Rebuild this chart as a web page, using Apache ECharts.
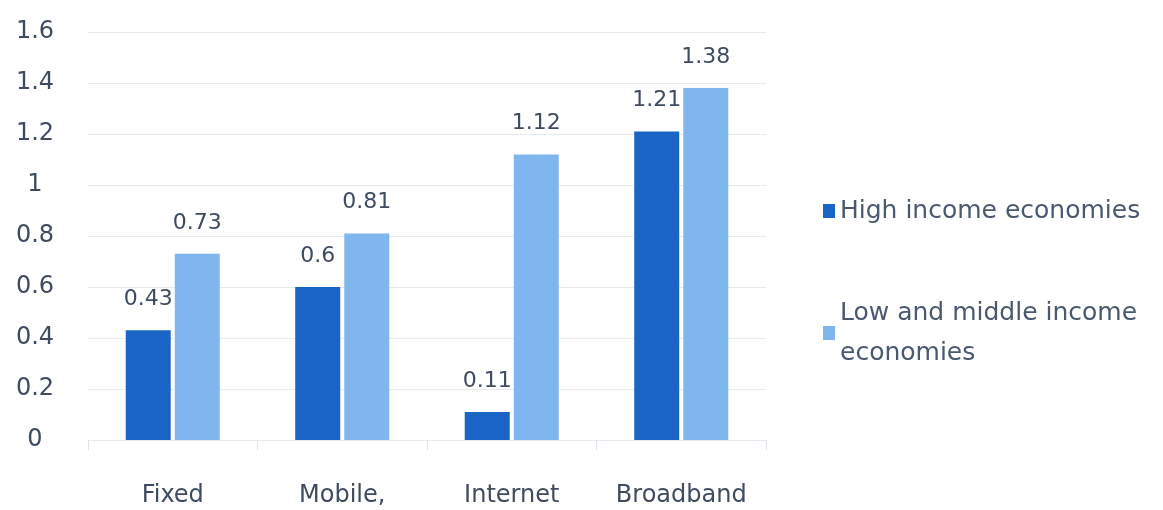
<!DOCTYPE html>
<html>
<head>
<meta charset="utf-8">
<script src="https://cdn.jsdelivr.net/npm/echarts@6/dist/echarts.min.js"></script>
<style>
  html, body { margin: 0; padding: 0; background: #ffffff; }
  #chart { width: 1163px; height: 510px; }
</style>
</head>
<body>
<div id="chart"></div>
<script>
// Categories and series values
const categories = ['Fixed', 'Mobile,', 'Internet', 'Broadband'];
const highIncome = [0.43, 0.6, 0.11, 1.21];
const lowMiddleIncome = [0.73, 0.81, 1.12, 1.38];
const seriesNames = ['High income economies', 'Low and middle income economies'];

const textColor = '#3f4c60';
const fontFamily = '"DejaVu Sans", "Liberation Sans", sans-serif';

const chart = echarts.init(document.getElementById('chart'));

const valueLabel = {
  show: true,
  position: 'top',
  distance: 20,
  color: textColor,
  fontSize: 22,
  fontFamily: fontFamily
};

chart.setOption({
  animation: false,
  backgroundColor: '#ffffff',
  grid: { left: 88, right: 397, top: 32, bottom: 70 },
  legend: {
    orient: 'vertical',
    left: 818,
    top: 186,
    itemWidth: 12,
    itemHeight: 14,
    itemGap: 62,
    icon: 'rect',
    data: seriesNames,
    textStyle: { color: '#4a5870', fontSize: 25, fontFamily: fontFamily, lineHeight: 40 },
    formatter: function (name) {
      return name === seriesNames[1] ? 'Low and middle income\neconomies' : name;
    }
  },
  xAxis: {
    type: 'category',
    data: categories,
    axisLine: { show: false },
    axisTick: { show: true, length: 10, lineStyle: { color: '#dfe3ea' } },
    axisLabel: { interval: 0, color: textColor, fontSize: 24, fontFamily: fontFamily, margin: 44 }
  },
  yAxis: {
    type: 'value',
    min: 0,
    max: 1.6,
    interval: 0.2,
    axisLine: { show: false },
    axisTick: { show: false },
    splitLine: { lineStyle: { color: '#e6ebf1', width: 1 } },
    axisLabel: {
      color: textColor, fontSize: 24, fontFamily: fontFamily,
      align: 'center', margin: 53,
      formatter: function (v) { return String(Math.round(v * 10) / 10); }
    }
  },
  series: [
    {
      name: seriesNames[0],
      type: 'bar',
      data: highIncome,
      barWidth: 45,
      barGap: '9%',
      itemStyle: { color: '#1a64c6' },
      label: valueLabel
    },
    {
      name: seriesNames[1],
      type: 'bar',
      data: lowMiddleIncome,
      barWidth: 45,
      barGap: '9%',
      itemStyle: { color: '#80b6ee' },
      label: valueLabel
    }
  ]
});
</script>
</body>
</html>
